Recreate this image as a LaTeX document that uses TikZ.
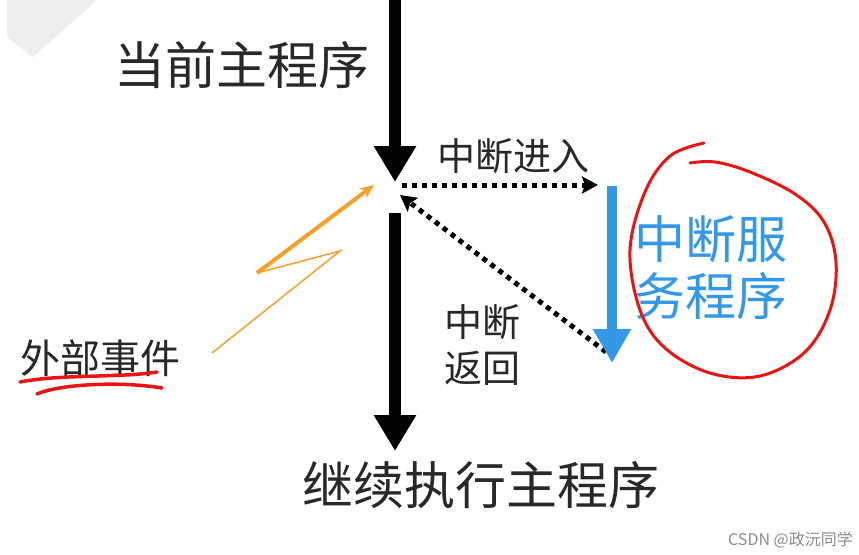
\documentclass[tikz,border=0pt]{standalone}
\usepackage{fontspec}
\setmainfont{Noto Sans CJK SC}
\usetikzlibrary{arrows.meta}
\definecolor{txt}{RGB}{40,40,40}
\definecolor{svcblue}{RGB}{52,152,232}
\definecolor{evorange}{RGB}{245,160,40}
\definecolor{markred}{RGB}{235,20,20}
\definecolor{wmgray}{RGB}{238,238,238}
\begin{document}
\begin{tikzpicture}[x=1pt,y=-1pt,
  bigtext/.style={inner sep=0pt,text=txt,font=\fontsize{51}{57}\selectfont},
  midtext/.style={inner sep=0pt,text=txt,font=\fontsize{38}{46}\selectfont},
  mainflow/.style={line width=12pt,-{Triangle[length=36pt,width=40pt]}},
  dotarrow/.style={line width=5pt,dash pattern=on 5pt off 5pt,-{Stealth[length=16pt,width=17pt,inset=3pt]}},
  svcflow/.style={line width=10pt,svcblue,-{Triangle[length=34pt,width=36pt]}}]
\useasboundingbox (0,0) rectangle (859,554);
\fill[white] (0,0) rectangle (859,554);
% watermark chevron
\fill[wmgray] (7,0) -- (97,0) -- (33,57) -- (7,37) -- cycle;
% coordinates
\coordinate (topstart) at (395,0);
\coordinate (branch) at (395,182);
\coordinate (lowstart) at (395,213);
\coordinate (lowend) at (395,451);
\coordinate (isrtop) at (612,186);
\coordinate (isrend) at (612,363);
\coordinate (entryend) at (598,185);
\coordinate (entrystart) at (402,185);
\coordinate (retstart) at (606,352);
\coordinate (retend) at (400,195);
\coordinate (zbase) at (257,273);
\coordinate (ztip) at (374,185);
\coordinate (zmid) at (340,251);
\coordinate (ztail) at (212,353);
% main flow
\draw[mainflow] (topstart) -- (branch);
\draw[mainflow] (lowstart) -- (lowend);
\node[bigtext,anchor=east] (cur) at (370,65) {当前主程序};
\node[bigtext] (cont) at (481,485) {继续执行主程序};
% interrupt entry / return
\draw[dotarrow] (entrystart) -- (entryend);
\draw[dotarrow] (retstart) -- (retend);
\node[midtext] (entrylbl) at (513,156) {中断进入};
\node[midtext,align=left,anchor=west] (retlbl) at (444,345) {中断\\返回};
% ISR
\draw[svcflow] (isrtop) -- (isrend);
\node[inner sep=0pt,text=svcblue,font=\fontsize{51}{57}\selectfont,align=left,anchor=west] (isr) at (634,268) {中断服\\务程序};
\draw[markred,line width=3pt,line cap=round] plot[smooth,tension=0.6] coordinates {(704,143) (670,156) (645,192) (630,250) (640,310) (665,348) (710,373) (760,376) (805,352) (830,310) (836,262) (824,222) (795,194) (750,172) (715,162) (690,163)};
% external event
\draw[evorange,line width=4pt,-{Stealth[length=14pt,width=12pt]}] (zbase) -- (ztip);
\draw[evorange,line width=1.5pt,line join=miter] (zbase) -- (zmid) -- (ztail);
\node[inner sep=0pt,text=txt,font=\fontsize{40}{46}\selectfont,anchor=west] (ev) at (20,358) {外部事件};
\draw[markred,line width=3.5pt,line cap=round] (20,382) .. controls (60,374) and (120,378) .. (157,372);
\draw[markred,line width=3.5pt,line cap=round] (37,394) .. controls (60,384) and (120,381) .. (162,388);
% watermark
\node[inner sep=0pt,anchor=east,text=black!45,font=\fontsize{16}{16}\selectfont] (wm) at (853,540) {CSDN @政沅同学};
\end{tikzpicture}
\end{document}
